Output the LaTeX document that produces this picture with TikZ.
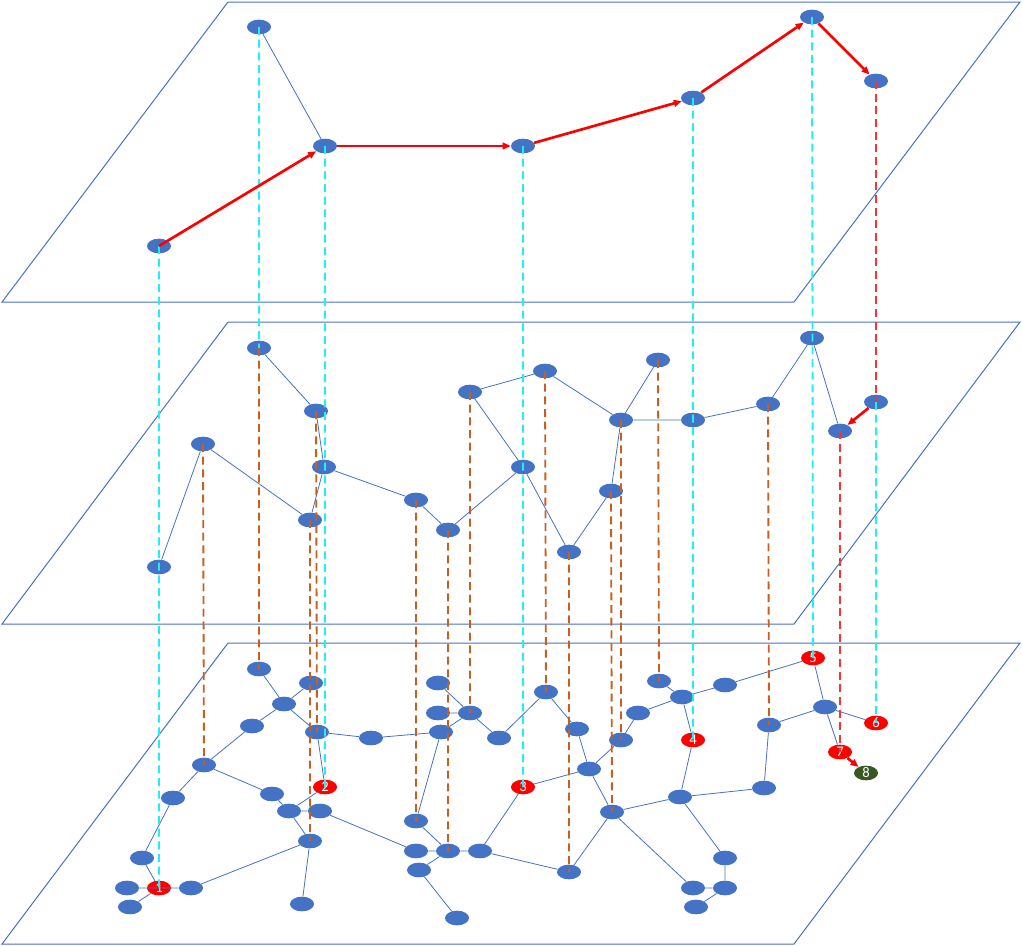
\documentclass[tikz,border=0pt]{standalone}
\usepackage{fontspec}
\setmainfont{Carlito}
\usetikzlibrary{arrows.meta,shapes.geometric}
\definecolor{nodeblue}{RGB}{68,114,196}
\definecolor{pathred}{RGB}{255,0,0}
\definecolor{dashred}{RGB}{250,50,50}
\definecolor{linkcyan}{RGB}{30,240,250}
\definecolor{linkorange}{RGB}{200,95,30}
\definecolor{goalgreen}{RGB}{56,87,35}

\begin{document}
\begin{tikzpicture}[x=0.75pt,y=0.75pt,yscale=-1,xscale=1,
  plane/.style={draw=nodeblue, line width=0.75pt},
  vertex/.style={ellipse, fill=nodeblue, minimum width=18pt, minimum height=11pt, inner sep=0pt},
  pathnode/.style={vertex, fill=pathred, text=white, font=\fontsize{11}{11}\selectfont},
  goalnode/.style={pathnode, fill=goalgreen},
  link/.style={draw=nodeblue, line width=0.6pt},
  route/.style={draw=pathred, line width=2pt, -{Triangle[length=6pt,width=5pt]}},
  cyanlink/.style={draw=linkcyan, line width=1.4pt, dash pattern=on 6pt off 3.5pt},
  orangelink/.style={draw=linkorange, line width=1.4pt, dash pattern=on 6pt off 3.5pt},
  redlink/.style={draw=dashred, line width=1.6pt, dash pattern=on 6pt off 3.5pt}]
\useasboundingbox (0,0) rectangle (1022,946);

%Shape: Planes (top, middle, bottom)
\draw[plane] (2,302) -- (228,2) -- (1020,2) -- (794,302) -- cycle ;
\draw[plane] (2,624) -- (228,322) -- (1020,322) -- (794,624) -- cycle ;
\draw[plane] (2,944) -- (228,643) -- (1020,643) -- (794,944) -- cycle ;

%Nodes: top layer
\node[vertex] (t1) at (159,246) {};
\node[vertex] (t2) at (259,27) {};
\node[vertex] (t3) at (325,146) {};
\node[vertex] (t4) at (523,146) {};
\node[vertex] (t5) at (693,98) {};
\node[vertex] (t6) at (812,17) {};
\node[vertex] (t7) at (876,81) {};

%Nodes: middle layer
\node[vertex] (m1) at (259,348) {};
\node[vertex] (m2) at (316,411) {};
\node[vertex] (m3) at (203,444) {};
\node[vertex] (m4) at (324,467) {};
\node[vertex] (m5) at (310,520) {};
\node[vertex] (m6) at (159,567) {};
\node[vertex] (m7) at (416,500) {};
\node[vertex] (m8) at (448,530) {};
\node[vertex] (m9) at (470,392) {};
\node[vertex] (m10) at (545,371) {};
\node[vertex] (m11) at (523,467) {};
\node[vertex] (m12) at (569,552) {};
\node[vertex] (m13) at (611,491) {};
\node[vertex] (m14) at (621,420) {};
\node[vertex] (m15) at (658,360) {};
\node[vertex] (m16) at (693,420) {};
\node[vertex] (m17) at (768,404) {};
\node[vertex] (m18) at (812,338) {};
\node[vertex] (m19) at (840,431) {};
\node[vertex] (m20) at (876,402) {};

%Nodes: bottom layer
\node[vertex] (b1) at (259,669) {};
\node[vertex] (b2) at (311,683) {};
\node[vertex] (b3) at (284,704) {};
\node[vertex] (b4) at (252,726) {};
\node[vertex] (b5) at (317,732) {};
\node[vertex] (b6) at (371,738) {};
\node[vertex] (b7) at (204,765) {};
\node[vertex] (b8) at (173,798) {};
\node[vertex] (b10) at (272,794) {};
\node[vertex] (b11) at (289,811) {};
\node[vertex] (b12) at (320,811) {};
\node[vertex] (b13) at (310,841) {};
\node[vertex] (b14) at (142,858) {};
\node[vertex] (b15) at (127,888) {};
\node[vertex] (b17) at (191,888) {};
\node[vertex] (b18) at (130,907) {};
\node[vertex] (b19) at (302,904) {};
\node[vertex] (c1) at (438,683) {};
\node[vertex] (c2) at (438,713) {};
\node[vertex] (c3) at (470,713) {};
\node[vertex] (c4) at (441,732) {};
\node[vertex] (c5) at (499,738) {};
\node[vertex] (c6) at (546,692) {};
\node[vertex] (c7) at (577,729) {};
\node[vertex] (c9) at (589,769) {};
\node[vertex] (c10) at (621,740) {};
\node[vertex] (c11) at (638,713) {};
\node[vertex] (c12) at (659,681) {};
\node[vertex] (c13) at (416,821) {};
\node[vertex] (c14) at (416,851) {};
\node[vertex] (c15) at (448,851) {};
\node[vertex] (c16) at (480,851) {};
\node[vertex] (c17) at (419,870) {};
\node[vertex] (c18) at (457,918) {};
\node[vertex] (c19) at (569,872) {};
\node[vertex] (c20) at (612,812) {};
\node[vertex] (d1) at (682,697) {};
\node[vertex] (d2) at (725,685) {};
\node[vertex] (d4) at (825,707) {};
\node[vertex] (d5) at (769,725) {};
\node[vertex] (d10) at (764,788) {};
\node[vertex] (d11) at (680,797) {};
\node[vertex] (d12) at (725,858) {};
\node[vertex] (d13) at (693,888) {};
\node[vertex] (d14) at (725,888) {};
\node[vertex] (d15) at (696,907) {};

%Nodes: numbered path
\node[pathnode] (p1) at (159,888) {1};
\node[pathnode] (p2) at (325,787) {2};
\node[pathnode] (p3) at (523,787) {3};
\node[pathnode] (p4) at (693,740) {4};
\node[pathnode] (p5) at (813,658) {5};
\node[pathnode] (p6) at (876,723) {6};
\node[pathnode] (p7) at (840,752) {7};
\node[goalnode] (p8) at (866,773) {8};

%Straight Lines: top layer
\draw[link] (t2) -- (t3) ;

%Straight Lines: middle layer
\draw[link] (m1) -- (m2) (m2) -- (m4) (m4) -- (m5) (m3) -- (m5) (m3) -- (m6)
  (m4) -- (m7) (m7) -- (m8) (m8) -- (m11) (m9) -- (m11) (m9) -- (m10)
  (m10) -- (m14) (m14) -- (m15) (m14) -- (m16) (m16) -- (m17) (m17) -- (m18)
  (m18) -- (m19) (m11) -- (m12) (m12) -- (m13) (m13) -- (m14) ;

%Straight Lines: bottom layer
\draw[link] (b1) -- (b3) (b2) -- (b3) (b3) -- (b4) (b3) -- (b5) (b4) -- (b7)
  (b5) -- (b6) (b5) -- (p2) (b7) -- (b10) (b7) -- (b8) (b8) -- (b14)
  (b10) -- (b11) (p2) -- (b11) (b11) -- (b12) (b11) -- (b13) (b12) -- (c14)
  (b13) -- (b17) (b15) -- (b17) (p1) -- (b14) (p1) -- (b18) (b13) -- (b19) ;
\draw[link] (b6) -- (c4) (c1) -- (c3) (c2) -- (c3) (c3) -- (c4) (c3) -- (c5)
  (c4) -- (c13) (c13) -- (c15) (c14) -- (c15) (c15) -- (c16) (c15) -- (c17)
  (c17) -- (c18) (c16) -- (c19) (c16) -- (p3) (c5) -- (c6) (c6) -- (c7)
  (c7) -- (c9) (p3) -- (c9) (c9) -- (c20) (c9) -- (c10) (c10) -- (c11)
  (c19) -- (c20) (c20) -- (d11) (c20) -- (d13) (c11) -- (d1) (c12) -- (d1) ;
\draw[link] (d1) -- (d2) (d2) -- (p5) (d1) -- (p4) (p5) -- (d4) (d4) -- (d5)
  (d4) -- (p6) (d4) -- (p7) (d5) -- (d10) (p4) -- (d11) (d11) -- (d10)
  (d11) -- (d12) (d12) -- (d14) (d13) -- (d14) (d14) -- (d15) ;

%Dashed Lines: between layers
\draw[cyanlink] (t1.center) -- (p1.center) (t2.center) -- (m1.center) (t3.center) -- (p2.center)
  (t4.center) -- (p3.center) (t5.center) -- (p4.center) (t6.center) -- (p5.center)
  (m20.center) -- (p6.center) ;
\draw[orangelink] (m1.center) -- (b1.center) (m3.center) -- (b7.center) (m2.center) -- (b5.center)
  (m5.center) -- (b13.center) (m7.center) -- (c13.center) (m8.center) -- (c15.center)
  (m9.center) -- (c3.center) (m10.center) -- (c6.center) (m12.center) -- (c19.center)
  (m13.center) -- (c20.center) (m14.center) -- (c10.center) (m15.center) -- (c12.center)
  (m17.center) -- (d5.center) ;
\draw[redlink] (t7.center) -- (m20.center) (m19.center) -- (p7.center) ;

%Arrows: route
\draw[route] (t1.center) -- (t3) ;
\draw[route] (t3) -- (t4) ;
\draw[route] (t4) -- (t5) ;
\draw[route] (t5) -- (t6) ;
\draw[route] (t6) -- (t7) ;
\draw[route] (m20) -- (m19) ;
\draw[route] (p7) -- (p8) ;

\end{tikzpicture}
\end{document}
